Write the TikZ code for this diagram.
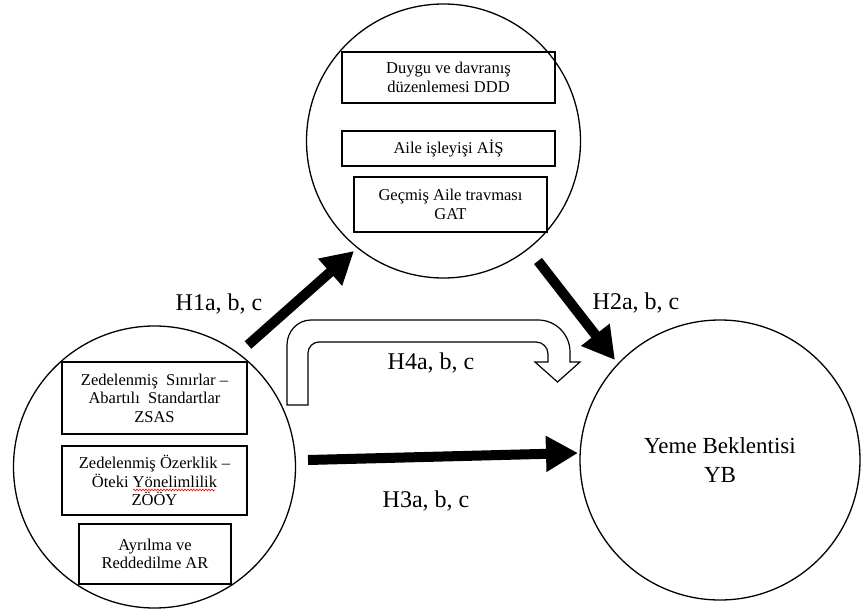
\documentclass[tikz,border=0pt]{standalone}
\usepackage{fontspec}
\setmainfont{Liberation Serif}
\usetikzlibrary{arrows.meta,decorations.pathmorphing}
\begin{document}
\begin{tikzpicture}[x=1pt,y=-1pt,
  bubble/.style={draw, circle, line width=1.3pt, inner sep=0pt},
  vbox/.style={draw, line width=1.2pt, align=center, inner sep=0pt,
    font=\fontsize{16.5}{18.5}\selectfont},
  lbl/.style={font=\fontsize{24}{28}\selectfont, inner sep=0pt},
  bigarrow/.style={line width=10pt, -{Triangle[length=32pt,width=34pt]}},
  hollow/.style={draw, line width=1.2pt, fill=white, line join=miter},
  spellwave/.style={draw=red, line width=0.6pt, decorate,
    decoration={snake, amplitude=0.9pt, segment length=3pt}}]
\useasboundingbox (0,0) rectangle (863,610);
% circles
\node[bubble, minimum size=274pt] (T) at (443.5,141) {};
\node[bubble, minimum size=282pt] (L) at (154.5,467) {};
\node[bubble, minimum size=280pt, align=center, font=\fontsize{23}{29}\selectfont] (R) at (720,460) {Yeme Beklentisi\\YB};
% boxes top
\node[vbox, minimum width=213pt, minimum height=51pt] (t1) at (448.5,77.5) {Duygu ve davranış\\düzenlemesi DDD};
\node[vbox, minimum width=213pt, minimum height=35pt] (t2) at (448.5,148.5) {Aile işleyişi AİŞ};
\node[vbox, minimum width=193pt, minimum height=55pt] (t3) at (450.5,204.5) {Geçmiş Aile travması\\GAT};
% boxes left
\node[vbox, minimum width=185pt, minimum height=72pt] (l1) at (154.5,398) {Zedelenmiş\ \ Sınırlar –\\Abartılı\ \ Standartlar\\ZSAS};
\node[vbox, minimum width=185pt, minimum height=69pt] (l2) at (154.5,480.5) {Zedelenmiş Özerklik –\\Öteki Yönelimlilik\\ZÖÖY};
\node[vbox, minimum width=152pt, minimum height=60pt] (l3) at (155,554) {Ayrılma ve\\Reddedilme AR};
% spell-check wave under "Yönelimlilik"
\coordinate (w1) at (133,490);
\coordinate (w2) at (215,490);
\draw[spellwave] (w1) -- (w2);
% arrow end points
\coordinate (h1s) at (248,345);
\coordinate (h1e) at (354,251);
\coordinate (h2s) at (538,261);
\coordinate (h2e) at (615,360);
\coordinate (h3s) at (308,460);
\coordinate (h3e) at (578,453);
\draw[bigarrow] (h1s) -- (h1e);
\draw[bigarrow] (h2s) -- (h2e);
\draw[bigarrow] (h3s) -- (h3e);
% hollow bent arrow H4
\draw[hollow] (287,405) -- (287,345)
  .. controls (287,331.7) and (297.3,320) .. (311,320)
  -- (538,320)
  .. controls (555.7,320) and (570,334.3) .. (570,352)
  -- (570,362) -- (580,362) -- (557.5,382) -- (535,362) -- (548,362) -- (548,354)
  .. controls (548,347.4) and (542.6,342) .. (536,342)
  -- (319,342)
  .. controls (313,342) and (308,347) .. (308,353)
  -- (308,405) -- cycle;
% labels
\node[lbl] (H1) at (219,304) {H1a, b, c};
\node[lbl] (H2) at (636,303) {H2a, b, c};
\node[lbl] (H4) at (431,363) {H4a, b, c};
\node[lbl] (H3) at (426,501) {H3a, b, c};
\end{tikzpicture}
\end{document}
